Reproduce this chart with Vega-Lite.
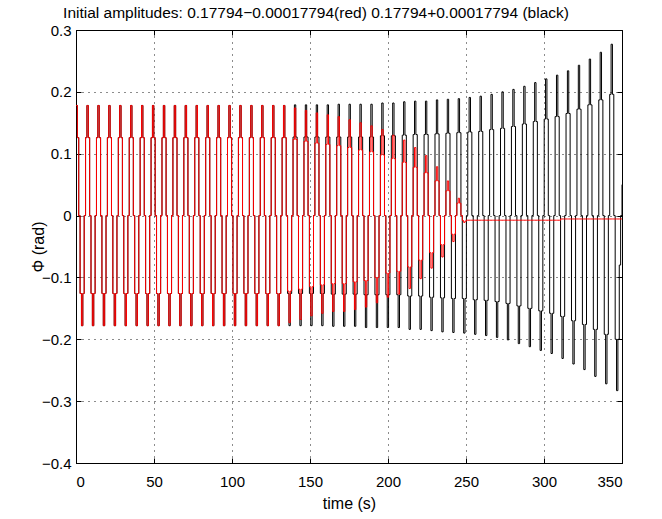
{
"$schema":"https://vega.github.io/schema/vega-lite/v6.json",
"width":546,"height":433,
"autosize":{"type":"none"},
"padding":{"left":76,"top":30,"right":40,"bottom":56},
"background":"white",
"title":{"text":"Initial amplitudes: 0.17794−0.00017794(red) 0.17794+0.00017794 (black)","font":"Liberation Sans","fontSize":15.5,"fontWeight":"normal","color":"#000","anchor":"middle","baseline":"alphabetic","offset":4,"dx":-33,"dy":14},
"config":{
"view":{"stroke":"#000","strokeWidth":1},
"axis":{"domainColor":"#000","domainWidth":1,"tickColor":"#000","tickSize":-5,"tickWidth":1,"grid":true,"gridColor":"#000","gridDash":[1,5],"gridOpacity":0.9,"gridWidth":1,"labelFont":"Liberation Sans","labelFontSize":15,"labelColor":"#000","titleFont":"Liberation Sans","titleFontSize":16,"titleFontWeight":"normal","titleColor":"#000"},
"axisX":{"labelPadding":16,"titlePadding":6},
"axisY":{"labelPadding":10,"titlePadding":-5}
},
"resolve":{"axis":{"x":"independent","y":"independent"}},
"data":{"values":[
{"t":0,"b":0.178,"r":0.178},{"t":0.875,"b":0.126,"r":0.126},{"t":1.75,"b":0,"r":0},{"t":2.625,"b":-0.126,"r":-0.126},{"t":3.5,"b":-0.178,"r":-0.178},{"t":4.375,"b":-0.126,"r":-0.126},{"t":5.25,"b":0,"r":0},{"t":6.125,"b":0.126,"r":0.126},
{"t":7,"b":0.178,"r":0.178},{"t":7.875,"b":0.126,"r":0.126},{"t":8.75,"b":0,"r":0},{"t":9.625,"b":-0.126,"r":-0.126},{"t":10.5,"b":-0.178,"r":-0.178},{"t":11.375,"b":-0.126,"r":-0.126},{"t":12.25,"b":0,"r":0},{"t":13.125,"b":0.126,"r":0.126},
{"t":14,"b":0.178,"r":0.178},{"t":14.875,"b":0.126,"r":0.126},{"t":15.75,"b":0,"r":0},{"t":16.625,"b":-0.126,"r":-0.126},{"t":17.5,"b":-0.178,"r":-0.178},{"t":18.375,"b":-0.126,"r":-0.126},{"t":19.25,"b":0,"r":0},{"t":20.125,"b":0.126,"r":0.126},
{"t":21,"b":0.178,"r":0.178},{"t":21.875,"b":0.126,"r":0.126},{"t":22.75,"b":0,"r":0},{"t":23.625,"b":-0.126,"r":-0.126},{"t":24.5,"b":-0.178,"r":-0.178},{"t":25.375,"b":-0.126,"r":-0.126},{"t":26.25,"b":0,"r":0},{"t":27.125,"b":0.126,"r":0.126},
{"t":28,"b":0.178,"r":0.178},{"t":28.875,"b":0.126,"r":0.126},{"t":29.75,"b":0,"r":0},{"t":30.625,"b":-0.126,"r":-0.126},{"t":31.5,"b":-0.178,"r":-0.178},{"t":32.375,"b":-0.126,"r":-0.126},{"t":33.25,"b":0,"r":0},{"t":34.125,"b":0.126,"r":0.126},
{"t":35,"b":0.178,"r":0.178},{"t":35.875,"b":0.126,"r":0.126},{"t":36.75,"b":0,"r":0},{"t":37.625,"b":-0.126,"r":-0.126},{"t":38.5,"b":-0.178,"r":-0.178},{"t":39.375,"b":-0.126,"r":-0.126},{"t":40.25,"b":0,"r":0},{"t":41.125,"b":0.126,"r":0.126},
{"t":42,"b":0.178,"r":0.178},{"t":42.875,"b":0.126,"r":0.126},{"t":43.75,"b":0,"r":0},{"t":44.625,"b":-0.126,"r":-0.126},{"t":45.5,"b":-0.178,"r":-0.178},{"t":46.375,"b":-0.126,"r":-0.126},{"t":47.25,"b":0,"r":0},{"t":48.125,"b":0.126,"r":0.126},
{"t":49,"b":0.178,"r":0.178},{"t":49.875,"b":0.126,"r":0.126},{"t":50.75,"b":0,"r":0},{"t":51.625,"b":-0.126,"r":-0.126},{"t":52.5,"b":-0.178,"r":-0.178},{"t":53.375,"b":-0.126,"r":-0.126},{"t":54.25,"b":0,"r":0},{"t":55.125,"b":0.126,"r":0.126},
{"t":56,"b":0.178,"r":0.178},{"t":56.875,"b":0.126,"r":0.126},{"t":57.75,"b":0,"r":0},{"t":58.625,"b":-0.126,"r":-0.126},{"t":59.5,"b":-0.178,"r":-0.178},{"t":60.375,"b":-0.126,"r":-0.126},{"t":61.25,"b":0,"r":0},{"t":62.125,"b":0.126,"r":0.126},
{"t":63,"b":0.178,"r":0.178},{"t":63.875,"b":0.126,"r":0.126},{"t":64.75,"b":0,"r":0},{"t":65.625,"b":-0.126,"r":-0.126},{"t":66.5,"b":-0.178,"r":-0.178},{"t":67.375,"b":-0.126,"r":-0.126},{"t":68.25,"b":0,"r":0},{"t":69.125,"b":0.126,"r":0.126},
{"t":70,"b":0.178,"r":0.178},{"t":70.875,"b":0.126,"r":0.126},{"t":71.75,"b":0,"r":0},{"t":72.625,"b":-0.126,"r":-0.126},{"t":73.5,"b":-0.178,"r":-0.178},{"t":74.375,"b":-0.126,"r":-0.126},{"t":75.25,"b":0,"r":0},{"t":76.125,"b":0.126,"r":0.126},
{"t":77,"b":0.178,"r":0.178},{"t":77.875,"b":0.126,"r":0.126},{"t":78.75,"b":0,"r":0},{"t":79.625,"b":-0.126,"r":-0.126},{"t":80.5,"b":-0.178,"r":-0.178},{"t":81.375,"b":-0.126,"r":-0.126},{"t":82.25,"b":0,"r":0},{"t":83.125,"b":0.126,"r":0.126},
{"t":84,"b":0.178,"r":0.178},{"t":84.875,"b":0.126,"r":0.126},{"t":85.75,"b":0,"r":0},{"t":86.625,"b":-0.126,"r":-0.126},{"t":87.5,"b":-0.178,"r":-0.178},{"t":88.375,"b":-0.126,"r":-0.126},{"t":89.25,"b":0,"r":0},{"t":90.125,"b":0.126,"r":0.126},
{"t":91,"b":0.178,"r":0.178},{"t":91.875,"b":0.126,"r":0.126},{"t":92.75,"b":0,"r":0},{"t":93.625,"b":-0.126,"r":-0.126},{"t":94.5,"b":-0.178,"r":-0.178},{"t":95.375,"b":-0.126,"r":-0.126},{"t":96.25,"b":0,"r":0},{"t":97.125,"b":0.126,"r":0.126},
{"t":98,"b":0.178,"r":0.178},{"t":98.875,"b":0.126,"r":0.126},{"t":99.75,"b":0,"r":0},{"t":100.625,"b":-0.126,"r":-0.126},{"t":101.5,"b":-0.178,"r":-0.178},{"t":102.375,"b":-0.126,"r":-0.126},{"t":103.25,"b":0,"r":0},{"t":104.125,"b":0.126,"r":0.126},
{"t":105,"b":0.178,"r":0.178},{"t":105.875,"b":0.126,"r":0.126},{"t":106.75,"b":0,"r":0},{"t":107.625,"b":-0.126,"r":-0.126},{"t":108.5,"b":-0.178,"r":-0.178},{"t":109.375,"b":-0.126,"r":-0.126},{"t":110.25,"b":0,"r":0},{"t":111.125,"b":0.126,"r":0.126},
{"t":112,"b":0.178,"r":0.178},{"t":112.875,"b":0.126,"r":0.126},{"t":113.75,"b":0,"r":0},{"t":114.625,"b":-0.126,"r":-0.126},{"t":115.5,"b":-0.178,"r":-0.178},{"t":116.375,"b":-0.126,"r":-0.126},{"t":117.25,"b":0,"r":0},{"t":118.125,"b":0.126,"r":0.126},
{"t":119,"b":0.178,"r":0.178},{"t":119.875,"b":0.126,"r":0.126},{"t":120.75,"b":0,"r":0},{"t":121.625,"b":-0.126,"r":-0.126},{"t":122.5,"b":-0.178,"r":-0.178},{"t":123.375,"b":-0.126,"r":-0.126},{"t":124.25,"b":0,"r":0},{"t":125.125,"b":0.126,"r":0.126},
{"t":126,"b":0.178,"r":0.178},{"t":126.875,"b":0.126,"r":0.126},{"t":127.75,"b":0,"r":0},{"t":128.625,"b":-0.126,"r":-0.126},{"t":129.5,"b":-0.178,"r":-0.178},{"t":130.375,"b":-0.126,"r":-0.126},{"t":131.25,"b":0,"r":0},{"t":132.125,"b":0.126,"r":0.126},
{"t":133,"b":0.178,"r":0.178},{"t":133.875,"b":0.126,"r":0.126},{"t":134.75,"b":0,"r":0},{"t":135.625,"b":-0.126,"r":-0.122},{"t":136.5,"b":-0.178,"r":-0.173},{"t":137.375,"b":-0.126,"r":-0.122},{"t":138.25,"b":0,"r":0},{"t":139.125,"b":0.127,"r":0.123},
{"t":140,"b":0.179,"r":0.174},{"t":140.875,"b":0.127,"r":0.123},{"t":141.75,"b":0,"r":0},{"t":142.625,"b":-0.126,"r":-0.119},{"t":143.5,"b":-0.178,"r":-0.168},{"t":144.375,"b":-0.126,"r":-0.119},{"t":145.25,"b":0,"r":0},{"t":146.125,"b":0.127,"r":0.12},
{"t":147,"b":0.179,"r":0.17},{"t":147.875,"b":0.127,"r":0.12},{"t":148.75,"b":0,"r":0},{"t":149.625,"b":-0.126,"r":-0.115},{"t":150.5,"b":-0.178,"r":-0.162},{"t":151.375,"b":-0.126,"r":-0.115},{"t":152.25,"b":0,"r":0},{"t":153.125,"b":0.127,"r":0.117},
{"t":154,"b":0.179,"r":0.166},{"t":154.875,"b":0.127,"r":0.117},{"t":155.75,"b":0,"r":0},{"t":156.625,"b":-0.126,"r":-0.112},{"t":157.5,"b":-0.178,"r":-0.158},{"t":158.375,"b":-0.126,"r":-0.112},{"t":159.25,"b":0,"r":0},{"t":160.125,"b":0.127,"r":0.115},
{"t":161,"b":0.179,"r":0.163},{"t":161.875,"b":0.127,"r":0.115},{"t":162.75,"b":0,"r":0},{"t":163.625,"b":-0.127,"r":-0.11},{"t":164.5,"b":-0.179,"r":-0.155},{"t":165.375,"b":-0.127,"r":-0.11},{"t":166.25,"b":0,"r":0},{"t":167.125,"b":0.127,"r":0.113},
{"t":168,"b":0.18,"r":0.16},{"t":168.875,"b":0.127,"r":0.113},{"t":169.75,"b":0,"r":0},{"t":170.625,"b":-0.127,"r":-0.11},{"t":171.5,"b":-0.179,"r":-0.155},{"t":172.375,"b":-0.127,"r":-0.11},{"t":173.25,"b":0,"r":0},{"t":174.125,"b":0.127,"r":0.11},
{"t":175,"b":0.18,"r":0.155},{"t":175.875,"b":0.127,"r":0.11},{"t":176.75,"b":0,"r":0},{"t":177.625,"b":-0.127,"r":-0.107},{"t":178.5,"b":-0.179,"r":-0.152},{"t":179.375,"b":-0.127,"r":-0.107},{"t":180.25,"b":0,"r":0},{"t":181.125,"b":0.127,"r":0.106},
{"t":182,"b":0.18,"r":0.15},{"t":182.875,"b":0.127,"r":0.106},{"t":183.75,"b":0,"r":0},{"t":184.625,"b":-0.128,"r":-0.105},{"t":185.5,"b":-0.181,"r":-0.148},{"t":186.375,"b":-0.128,"r":-0.105},{"t":187.25,"b":0,"r":0},{"t":188.125,"b":0.127,"r":0.103},
{"t":189,"b":0.18,"r":0.145},{"t":189.875,"b":0.127,"r":0.103},{"t":190.75,"b":0,"r":0},{"t":191.625,"b":-0.128,"r":-0.1},{"t":192.5,"b":-0.181,"r":-0.141},{"t":193.375,"b":-0.128,"r":-0.1},{"t":194.25,"b":0,"r":0},{"t":195.125,"b":0.129,"r":0.098},
{"t":196,"b":0.182,"r":0.139},{"t":196.875,"b":0.129,"r":0.098},{"t":197.75,"b":0,"r":0},{"t":198.625,"b":-0.128,"r":-0.093},{"t":199.5,"b":-0.181,"r":-0.132},{"t":200.375,"b":-0.128,"r":-0.093},{"t":201.25,"b":0,"r":0},{"t":202.125,"b":0.129,"r":0.092},
{"t":203,"b":0.182,"r":0.13},{"t":203.875,"b":0.129,"r":0.092},{"t":204.75,"b":0,"r":0},{"t":205.625,"b":-0.128,"r":-0.09},{"t":206.5,"b":-0.181,"r":-0.127},{"t":207.375,"b":-0.128,"r":-0.09},{"t":208.25,"b":0,"r":0},{"t":209.125,"b":0.13,"r":0.086},
{"t":210,"b":0.184,"r":0.122},{"t":210.875,"b":0.13,"r":0.086},{"t":211.75,"b":0,"r":0},{"t":212.625,"b":-0.13,"r":-0.083},{"t":213.5,"b":-0.184,"r":-0.118},{"t":214.375,"b":-0.13,"r":-0.083},{"t":215.25,"b":0,"r":0},{"t":216.125,"b":0.131,"r":0.078},
{"t":217,"b":0.185,"r":0.11},{"t":217.875,"b":0.131,"r":0.078},{"t":218.75,"b":0,"r":0},{"t":219.625,"b":-0.13,"r":-0.072},{"t":220.5,"b":-0.184,"r":-0.102},{"t":221.375,"b":-0.13,"r":-0.072},{"t":222.25,"b":0,"r":0},{"t":223.125,"b":0.131,"r":0.069},
{"t":224,"b":0.185,"r":0.097},{"t":224.875,"b":0.131,"r":0.069},{"t":225.75,"b":0,"r":0},{"t":226.625,"b":-0.132,"r":-0.06},{"t":227.5,"b":-0.186,"r":-0.085},{"t":228.375,"b":-0.132,"r":-0.06},{"t":229.25,"b":0,"r":0},{"t":230.125,"b":0.132,"r":0.056},
{"t":231,"b":0.187,"r":0.079},{"t":231.875,"b":0.132,"r":0.056},{"t":232.75,"b":0,"r":0},{"t":233.625,"b":-0.133,"r":-0.047},{"t":234.5,"b":-0.188,"r":-0.067},{"t":235.375,"b":-0.133,"r":-0.047},{"t":236.25,"b":0,"r":0},{"t":237.125,"b":0.133,"r":0.04},
{"t":238,"b":0.188,"r":0.056},{"t":238.875,"b":0.133,"r":0.04},{"t":239.75,"b":0,"r":0},{"t":240.625,"b":-0.134,"r":-0.03},{"t":241.5,"b":-0.189,"r":-0.042},{"t":242.375,"b":-0.134,"r":-0.03},{"t":243.25,"b":0,"r":0},{"t":244.125,"b":0.134,"r":0.02},
{"t":245,"b":0.189,"r":0.028},{"t":245.875,"b":0.134,"r":0.02},{"t":246.75,"b":0,"r":0},{"t":247.625,"b":-0.134,"r":-0.008},{"t":248.5,"b":-0.19,"r":-0.011},{"t":249.375,"b":-0.134,"r":-0.009},{"t":250.25,"b":0,"r":-0.0075},{"t":251.125,"b":0.135,"r":-0.0075},
{"t":252,"b":0.191,"r":-0.0075},{"t":252.875,"b":0.135,"r":-0.0075},{"t":253.75,"b":0,"r":-0.0075},{"t":254.625,"b":-0.136,"r":-0.0075},{"t":255.5,"b":-0.192,"r":-0.0075},{"t":256.375,"b":-0.136,"r":-0.0075},{"t":257.25,"b":0,"r":-0.0075},{"t":258.125,"b":0.136,"r":-0.0075},
{"t":259,"b":0.193,"r":-0.0075},{"t":259.875,"b":0.136,"r":-0.0075},{"t":260.75,"b":0,"r":-0.0075},{"t":261.625,"b":-0.137,"r":-0.0075},{"t":262.5,"b":-0.194,"r":-0.0075},{"t":263.375,"b":-0.137,"r":-0.0075},{"t":264.25,"b":0,"r":-0.0075},{"t":265.125,"b":0.139,"r":-0.0075},
{"t":266,"b":0.196,"r":-0.0075},{"t":266.875,"b":0.139,"r":-0.0075},{"t":267.75,"b":0,"r":-0.0075},{"t":268.625,"b":-0.139,"r":-0.0075},{"t":269.5,"b":-0.197,"r":-0.0075},{"t":270.375,"b":-0.139,"r":-0.0075},{"t":271.25,"b":0,"r":-0.0075},{"t":272.125,"b":0.141,"r":-0.0075},
{"t":273,"b":0.2,"r":-0.0075},{"t":273.875,"b":0.141,"r":-0.0075},{"t":274.75,"b":0,"r":-0.0075},{"t":275.625,"b":-0.142,"r":-0.0075},{"t":276.5,"b":-0.201,"r":-0.0075},{"t":277.375,"b":-0.142,"r":-0.0075},{"t":278.25,"b":0,"r":-0.0075},{"t":279.125,"b":0.144,"r":-0.0075},
{"t":280,"b":0.204,"r":-0.0075},{"t":280.875,"b":0.144,"r":-0.0075},{"t":281.75,"b":0,"r":-0.0075},{"t":282.625,"b":-0.146,"r":-0.0075},{"t":283.5,"b":-0.207,"r":-0.0075},{"t":284.375,"b":-0.146,"r":-0.0075},{"t":285.25,"b":0,"r":-0.0075},{"t":286.125,"b":0.148,"r":-0.0075},
{"t":287,"b":0.209,"r":-0.0075},{"t":287.875,"b":0.148,"r":-0.0075},{"t":288.75,"b":0,"r":-0.0075},{"t":289.625,"b":-0.15,"r":-0.0075},{"t":290.5,"b":-0.212,"r":-0.0075},{"t":291.375,"b":-0.15,"r":-0.0075},{"t":292.25,"b":0,"r":-0.0075},{"t":293.125,"b":0.152,"r":-0.0075},
{"t":294,"b":0.215,"r":-0.0075},{"t":294.875,"b":0.152,"r":-0.0075},{"t":295.75,"b":0,"r":-0.0075},{"t":296.625,"b":-0.154,"r":-0.0075},{"t":297.5,"b":-0.218,"r":-0.0075},{"t":298.375,"b":-0.154,"r":-0.0075},{"t":299.25,"b":0,"r":-0.0075},{"t":300.125,"b":0.156,"r":-0.0075},
{"t":301,"b":0.221,"r":-0.0075},{"t":301.875,"b":0.156,"r":-0.0075},{"t":302.75,"b":0,"r":-0.0075},{"t":303.625,"b":-0.158,"r":-0.0075},{"t":304.5,"b":-0.223,"r":-0.0075},{"t":305.375,"b":-0.158,"r":-0.0075},{"t":306.25,"b":0,"r":-0.0075},{"t":307.125,"b":0.16,"r":-0.0075},
{"t":308,"b":0.227,"r":-0.0075},{"t":308.875,"b":0.16,"r":-0.0075},{"t":309.75,"b":0,"r":-0.0075},{"t":310.625,"b":-0.163,"r":-0.0055},{"t":311.5,"b":-0.231,"r":-0.0055},{"t":312.375,"b":-0.163,"r":-0.0055},{"t":313.25,"b":0,"r":-0.0055},{"t":314.125,"b":0.165,"r":-0.0055},
{"t":315,"b":0.234,"r":-0.0055},{"t":315.875,"b":0.165,"r":-0.0055},{"t":316.75,"b":0,"r":-0.0055},{"t":317.625,"b":-0.17,"r":-0.0055},{"t":318.5,"b":-0.24,"r":-0.0055},{"t":319.375,"b":-0.17,"r":-0.0055},{"t":320.25,"b":0,"r":-0.0055},{"t":321.125,"b":0.172,"r":-0.0055},
{"t":322,"b":0.243,"r":-0.0055},{"t":322.875,"b":0.172,"r":-0.0055},{"t":323.75,"b":0,"r":-0.0055},{"t":324.625,"b":-0.176,"r":-0.0055},{"t":325.5,"b":-0.249,"r":-0.0055},{"t":326.375,"b":-0.176,"r":-0.0055},{"t":327.25,"b":0,"r":-0.0055},{"t":328.125,"b":0.179,"r":-0.0055},
{"t":329,"b":0.253,"r":-0.0055},{"t":329.875,"b":0.179,"r":-0.0055},{"t":330.75,"b":0,"r":-0.0055},{"t":331.625,"b":-0.184,"r":-0.0055},{"t":332.5,"b":-0.26,"r":-0.0055},{"t":333.375,"b":-0.184,"r":-0.0055},{"t":334.25,"b":0,"r":-0.0055},{"t":335.125,"b":0.187,"r":-0.0055},
{"t":336,"b":0.264,"r":-0.0055},{"t":336.875,"b":0.187,"r":-0.0055},{"t":337.75,"b":0,"r":-0.0055},{"t":338.625,"b":-0.192,"r":-0.0055},{"t":339.5,"b":-0.272,"r":-0.0055},{"t":340.375,"b":-0.192,"r":-0.0055},{"t":341.25,"b":0,"r":-0.0055},{"t":342.125,"b":0.196,"r":-0.0055},
{"t":343,"b":0.277,"r":-0.0055},{"t":343.875,"b":0.196,"r":-0.0055},{"t":344.75,"b":0,"r":-0.0055},{"t":345.625,"b":-0.2,"r":-0.0055},{"t":346.5,"b":-0.283,"r":-0.0055},{"t":347.375,"b":-0.2,"r":-0.0055},{"t":348.25,"b":-0.08,"r":-0.0055},{"t":349.125,"b":0,"r":-0.0055},{"t":350,"b":0.05,"r":-0.0055}
]},
"layer":[
{"mark":{"type":"line","color":"#000000","strokeWidth":1,"interpolate":"step-after","clip":true},
"encoding":{
"x":{"field":"t","type":"quantitative","title":"time (s)","scale":{"domain":[0,350],"nice":false,"zero":false},"axis":{"values":[0,50,100,150,200,250,300,350],"format":"d"}},
"y":{"field":"b","type":"quantitative","title":"Φ (rad)","scale":{"domain":[-0.4,0.3],"nice":false,"zero":false},"axis":{"values":[-0.4,-0.3,-0.2,-0.1,0,0.1,0.2,0.3],"format":"~g"}}}},
{"mark":{"type":"line","color":"#ff0000","strokeWidth":1,"interpolate":"step-after","clip":true},
"encoding":{
"x":{"field":"t","type":"quantitative","axis":{"orient":"top","values":[0,50,100,150,200,250,300,350],"labels":false,"grid":false,"domain":false,"title":null}},
"y":{"field":"r","type":"quantitative","axis":{"orient":"right","values":[-0.4,-0.3,-0.2,-0.1,0,0.1,0.2,0.3],"labels":false,"grid":false,"domain":false,"title":null}}}}
]
}
